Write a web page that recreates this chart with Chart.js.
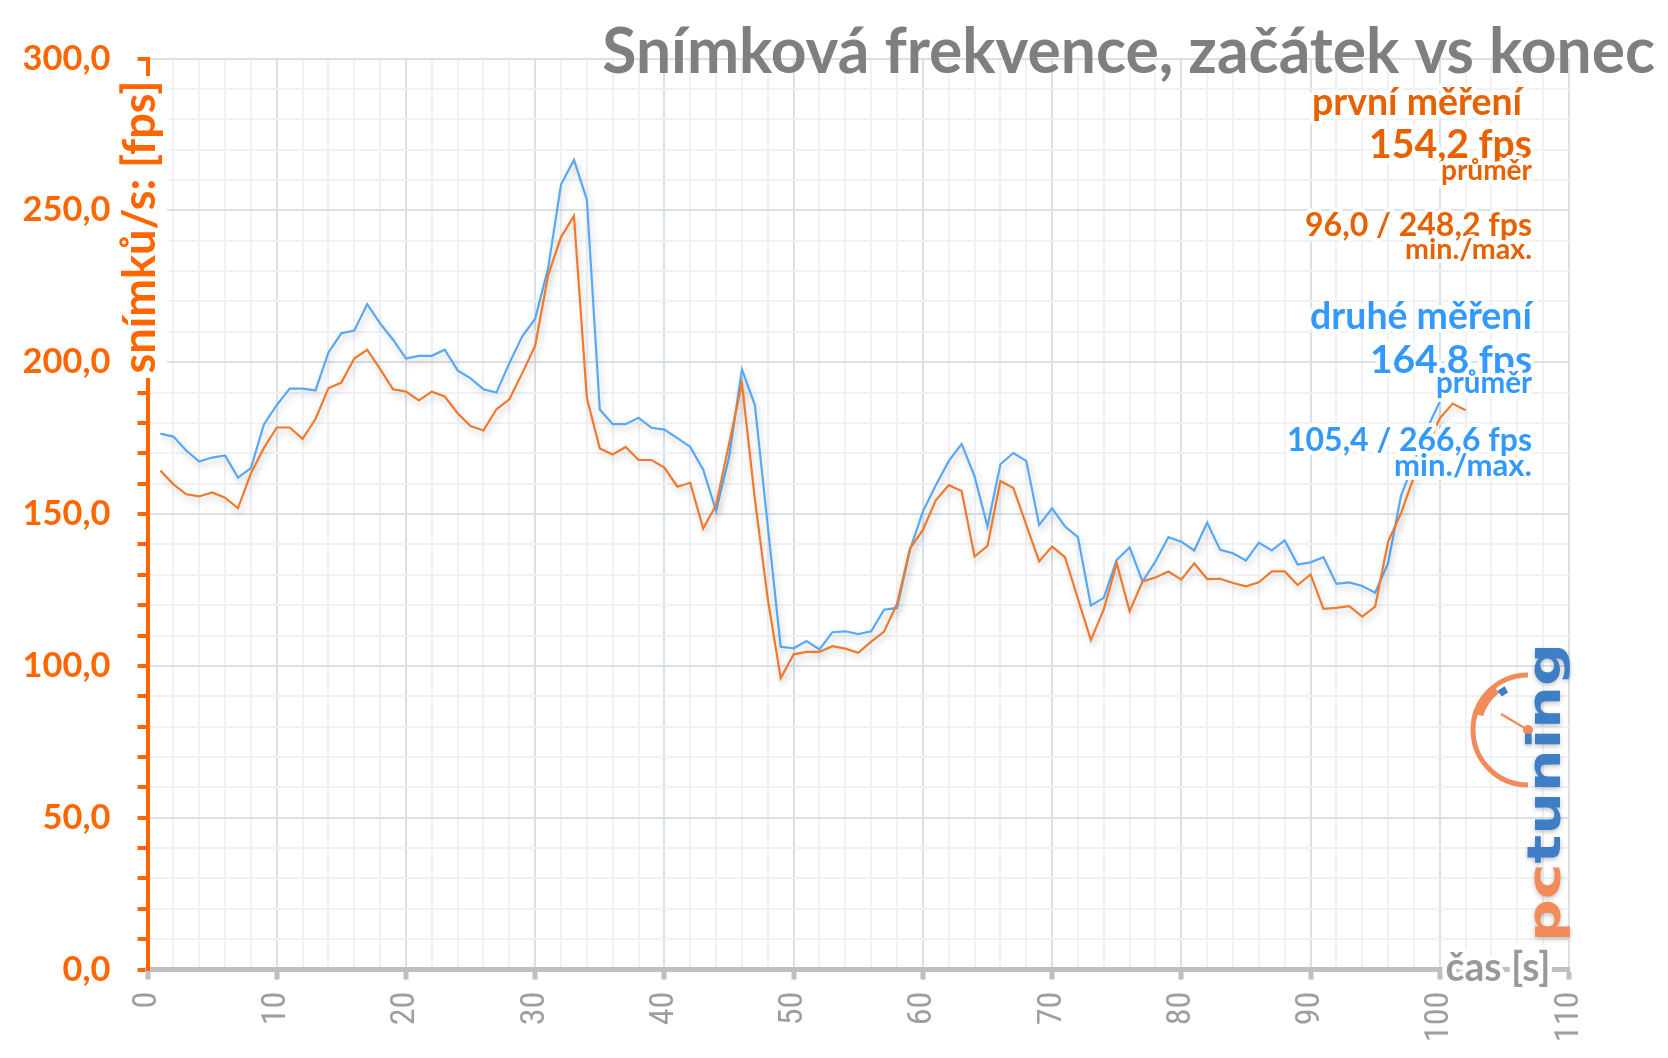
<!DOCTYPE html>
<html>
<head>
<meta charset="utf-8">
<script src="https://cdn.jsdelivr.net/npm/chart.js@4/dist/chart.umd.min.js"></script>
<style>html,body{margin:0;padding:0;background:#fff;}canvas{display:block;}</style>
</head>
<body>
<canvas id="c" width="1668" height="1058"></canvas>
<script>
// ---- data (fps per second) ----
const firstRun = [164.3,159.8,156.5,155.8,157.1,155.4,151.9,163.4,171.7,178.5,
  178.5,174.8,181.3,191.4,193.3,201.2,204.1,197.7,191.1,190.3,
  187.4,190.3,188.7,183.2,179.0,177.5,184.5,187.8,196.4,205.4,
  228.6,241.2,248.2,188.2,171.6,169.6,172.1,167.8,167.8,165.3,
  159.0,160.3,145.2,153.0,173.1,193.0,155.0,122.0,96.0,103.8,
  104.6,104.6,106.5,105.7,104.3,108.0,111.3,120.4,138.6,144.8,
  154.5,159.5,157.6,136.0,139.5,160.9,158.6,146.4,134.4,139.3,
  135.8,122.1,108.5,118.6,133.8,118.0,127.8,129.1,131.1,128.4,
  133.8,128.6,128.7,127.3,126.2,127.5,131.1,131.1,126.6,130.1,
  118.8,119.1,119.7,116.2,119.5,140.9,150.2,162.3,172.2,181.5,
  186.4,184.2];
const secondRun = [176.5,175.5,170.9,167.3,168.6,169.3,162.0,165.1,179.4,185.9,
  191.3,191.3,190.7,203.2,209.5,210.4,219.1,212.8,207.4,201.2,
  202.1,202.1,204.1,197.3,194.7,191.1,190.0,199.7,208.5,214.3,
  230.9,258.5,266.6,253.5,184.4,179.6,179.6,181.7,178.4,177.8,
  175.0,172.1,164.6,151.1,168.7,197.6,185.9,146.0,106.3,105.8,
  108.2,105.4,111.1,111.4,110.5,111.4,118.5,119.1,138.2,150.8,
  159.5,167.4,173.1,162.4,145.9,166.4,170.1,167.5,146.4,151.9,
  145.9,142.4,119.9,122.4,134.9,139.0,127.8,134.4,142.4,140.9,
  138.0,147.2,138.2,137.1,134.7,140.6,138.0,141.3,133.4,134.1,
  135.8,127.0,127.5,126.3,124.1,133.8,156.0,167.0,178.0,187.0];
const xTickLabels = ['0','10','20','30','40','50','60','70','80','90','100','110'];
const yTickLabels = ['0,0','50,0','100,0','150,0','200,0','250,0','300,0'];
const titleText = 'Snímková frekvence, začátek vs konec';
const yTitleText = 'snímků/s: [fps]';
const xTitleText = 'čas [s]';
const firstStats = ['první měření','154,2 fps','průměr','96,0 / 248,2 fps','min./max.'];
const secondStats = ['druhé měření','164,8 fps','průměr','105,4 / 266,6 fps','min./max.'];
const logoParts = ['pc','tuning'];

// ---- style ----
const SANS = 'Lato, "Open Sans", sans-serif';
const NARROW = '"Liberation Sans Narrow", "Roboto Condensed", Roboto, sans-serif';
const C_ORANGE_LINE = '#EF7A2C';
const C_BLUE_LINE = '#58A9F4';
const C_AXIS_OR = '#FF6600';
const C_TXT_OR = '#E86100';
const C_TXT_BL = '#3399FF';
const C_MAJOR = '#D9E0E8';
const C_MINOR = '#EFF1F5';

const mctx = document.createElement('canvas').getContext('2d');
function fit(text, weight, family, width) {
  mctx.font = weight + ' 100px ' + family;
  return 100 * width / mctx.measureText(text).width;
}
const yTickSize = fit('250,0', 'bold', SANS, 88);
const xTickSize = fit('40', 'normal', NARROW, 33.7);

function pts(arr) { return arr.map((v, i) => ({x: i + 1, y: v})); }

function haloText(ctx, text, x, y, size, weight, family, color, align, halo) {
  ctx.font = weight + ' ' + size + 'px ' + family;
  ctx.textAlign = align;
  ctx.textBaseline = 'alphabetic';
  if (halo) {
    ctx.lineJoin = 'round';
    ctx.strokeStyle = '#ffffff';
    ctx.lineWidth = halo;
    ctx.strokeText(text, x, y);
  }
  ctx.fillStyle = color;
  ctx.fillText(text, x, y);
}

const shadowPlugin = {
  id: 'lineShadow',
  beforeDatasetDraw(chart) {
    const ctx = chart.ctx;
    ctx.save();
    ctx.shadowColor = 'rgba(0,0,0,0.22)';
    ctx.shadowBlur = 7;
    ctx.shadowOffsetX = 2;
    ctx.shadowOffsetY = 4;
  },
  afterDatasetDraw(chart) { chart.ctx.restore(); }
};

const textPlugin = {
  id: 'texts',
  afterDraw(chart) {
    const ctx = chart.ctx;
    ctx.save();
    // title
    const ts = fit(titleText, 'bold', SANS, 1053);
    haloText(ctx, titleText, 1655, 72.5, ts, 'bold', SANS, '#7F7F7F', 'right', 0);

    // y axis title (rotated) over the axis line
    ctx.fillStyle = '#ffffff';
    ctx.fillRect(121, 76, 46, 302);
    const ys = fit(yTitleText, 'bold', SANS, 293);
    ctx.save();
    ctx.translate(155, 227);
    ctx.rotate(-Math.PI / 2);
    haloText(ctx, yTitleText, 0, 0, ys, 'bold', SANS, C_AXIS_OR, 'center', 0);
    ctx.restore();

    // x axis title
    const xs = fit(xTitleText, 'bold', SANS, 105);
    haloText(ctx, xTitleText, 1498, 981, xs, 'bold', SANS, '#999999', 'center', 9);

    // stats blocks
    const right = 1532;
    const oW = [210, 163, 91, 227, 127];
    const oY = [115, 158, 180, 236, 259];
    const oR = [1522, right, right, right, right];
    firstStats.forEach((t, i) => {
      const s = fit(t, 'bold', SANS, oW[i]);
      haloText(ctx, t, oR[i], oY[i], s, 'bold', SANS, C_TXT_OR, 'right', 8);
    });
    const bW = [222, 162, 96, 245, 138];
    const bY = [329, 372.5, 393, 451, 476];
    secondStats.forEach((t, i) => {
      const s = fit(t, 'bold', SANS, bW[i]);
      haloText(ctx, t, right, bY[i], s, 'bold', SANS, C_TXT_BL, 'right', 8);
    });

    // logo: gauge
    const cx = 1528, cy = 730, r = 55;
    ctx.strokeStyle = '#F28B5B';
    ctx.lineWidth = 5;
    ctx.beginPath();
    ctx.arc(cx, cy, r, -Math.PI / 2, Math.PI / 2, true);
    ctx.stroke();
    ctx.lineWidth = 10;
    ctx.beginPath();
    ctx.arc(cx, cy, r - 3, 197 * Math.PI / 180, 232 * Math.PI / 180);
    ctx.stroke();
    ctx.strokeStyle = '#3D7EC6';
    ctx.lineWidth = 7;
    ctx.beginPath();
    ctx.arc(cx, cy, r - 9, 232 * Math.PI / 180, 242 * Math.PI / 180);
    ctx.stroke();
    ctx.strokeStyle = '#F28B5B';
    ctx.lineWidth = 2.5;
    ctx.beginPath();
    ctx.moveTo(cx, cy);
    ctx.lineTo(cx - 27, cy - 16);
    ctx.stroke();
    ctx.fillStyle = '#F28B5B';
    ctx.beginPath();
    ctx.arc(cx, cy, 5, 0, Math.PI * 2);
    ctx.fill();

    // logo: text
    ctx.save();
    ctx.translate(1560, 942);
    ctx.rotate(-Math.PI / 2);
    ctx.font = 'bold 47px "DejaVu Sans", sans-serif';
    const w1 = ctx.measureText(logoParts[0]).width;
    const w2 = ctx.measureText(logoParts[1]).width;
    ctx.scale(299 / (w1 + w2), 1);
    ctx.textAlign = 'left';
    ctx.textBaseline = 'alphabetic';
    ctx.shadowColor = 'rgba(0,0,0,0.25)';
    ctx.shadowBlur = 5;
    ctx.shadowOffsetY = 2;
    ctx.fillStyle = '#F28B5B';
    ctx.fillText(logoParts[0], 0, 0);
    ctx.fillStyle = '#3D7EC6';
    ctx.fillText(logoParts[1], w1, 0);
    ctx.restore();

    ctx.restore();
  }
};

new Chart(document.getElementById('c'), {
  type: 'line',
  data: {
    datasets: [
      { label: 'první měření', data: pts(firstRun), borderColor: C_ORANGE_LINE, borderWidth: 2.2,
        pointRadius: 0, tension: 0, fill: false },
      { label: 'druhé měření', data: pts(secondRun), borderColor: C_BLUE_LINE, borderWidth: 2.2,
        pointRadius: 0, tension: 0, fill: false }
    ]
  },
  options: {
    responsive: false,
    animation: false,
    devicePixelRatio: 1,
    layout: { padding: { top: 58.5, right: 99, left: 0, bottom: 0 } },
    plugins: { legend: { display: false }, tooltip: { enabled: false }, title: { display: false } },
    scales: {
      x: {
        type: 'linear', min: 0, max: 110,
        afterFit: s => { s.height = 88.4; },
        ticks: {
          stepSize: 2, autoSkip: false, minRotation: 90, maxRotation: 90,
          padding: 12,
          color: '#9E9E9E',
          font: { family: NARROW, size: xTickSize, weight: 'normal' },
          callback: v => (v % 10 === 0 ? xTickLabels[v / 10] : '')
        },
        grid: {
          color: c => (c.tick && c.tick.value % 10 === 0 ? C_MAJOR : C_MINOR),
          lineWidth: 2,
          drawTicks: true, tickLength: 10, tickWidth: 5,
          tickColor: c => (c.tick && c.tick.value % 10 === 0 ? '#BFBFBF' : 'rgba(0,0,0,0)')
        },
        border: { display: true, color: '#BFBFBF', width: 5 }
      },
      y: {
        min: 0, max: 300,
        afterFit: s => { s.width = 147.5; },
        ticks: {
          stepSize: 10, autoSkip: false, padding: 27,
          color: C_AXIS_OR,
          font: { family: SANS, size: yTickSize, weight: 'bold' },
          callback: v => (v % 50 === 0 ? yTickLabels[v / 50] : '')
        },
        grid: {
          color: c => (c.tick && c.tick.value % 50 === 0 ? C_MAJOR : C_MINOR),
          lineWidth: 2,
          drawTicks: true, tickLength: 10, tickWidth: 4,
          tickColor: C_AXIS_OR
        },
        border: { display: true, color: C_AXIS_OR, width: 4 }
      }
    }
  },
  plugins: [shadowPlugin, textPlugin]
});
</script>
</body>
</html>
